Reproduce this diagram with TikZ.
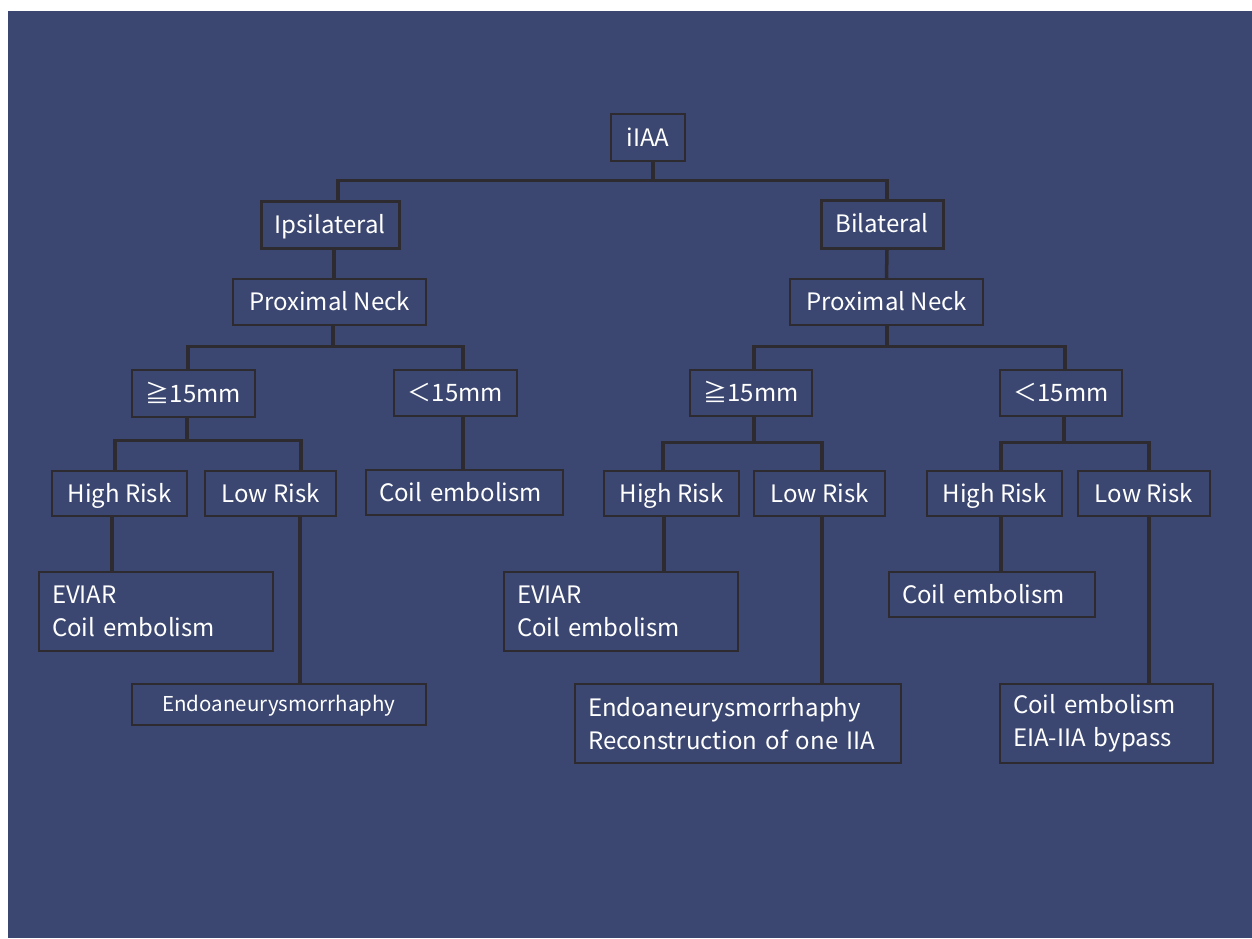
\documentclass[tikz,border=0pt]{standalone}
\usepackage{fontspec}
\setmainfont{Noto Sans CJK JP}
\definecolor{bg}{HTML}{3B4770}
\definecolor{ln}{HTML}{2D2A30}
\begin{document}
\begin{tikzpicture}[x=1pt,y=-1pt,
  base/.style={draw=ln, line width=1.3pt, fill=bg, text=white,
    font=\fontsize{24}{33}\selectfont, inner sep=0pt, minimum height=45pt},
  box/.style={base, align=center, text height=22pt, text depth=5pt},
  thickbox/.style={box, line width=3pt},
  lbox/.style={base, align=left, inner xsep=13pt},
  conn/.style={draw=ln, line width=3.5pt}]
\useasboundingbox (0,0) rectangle (1252,938);
\fill[white] (0,0) rectangle (1252,938);
\fill[bg] (8,11) rectangle (1252,938);

% nodes
\node[box, minimum width=74pt, minimum height=47pt] (iIAA) at (648,137.5) {iIAA};
\node[thickbox, minimum width=138pt, minimum height=47pt] (ipsi) at (330,224.5) {Ipsilateral};
\node[thickbox, minimum width=122pt, minimum height=48pt] (bila) at (882,224) {Bilateral};
\node[box, minimum width=193pt, minimum height=46pt] (pnl) at (329.5,302) {Proximal Neck};
\node[box, minimum width=193pt, minimum height=46pt] (pnr) at (886.5,302) {Proximal Neck};
\node[box, minimum width=123pt, minimum height=47pt] (gel) at (193.5,393.5) {≧15mm};
\node[box, minimum width=123pt, minimum height=46pt] (ltl) at (455.5,393) {＜15mm};
\node[box, minimum width=122pt, minimum height=46pt] (ger) at (751,393) {≧15mm};
\node[box, minimum width=122pt, minimum height=46pt] (ltr) at (1061,393) {＜15mm};
\node[box, minimum width=135pt] (hrl) at (119.5,493.5) {High Risk};
\node[box, minimum width=131pt] (lrl) at (270.5,493.5) {Low Risk};
\node[lbox, text width=171pt] (cel) at (464.5,492.5) {Coil embolism};
\node[box, minimum width=135pt] (hrr) at (671.5,493.5) {High Risk};
\node[box, minimum width=131pt] (lrr) at (819.5,493.5) {Low Risk};
\node[box, minimum width=135pt] (hrf) at (994.5,493.5) {High Risk};
\node[box, minimum width=132pt] (lrf) at (1144,493.5) {Low Risk};
\node[lbox, text width=208pt, minimum height=79pt] (evl) at (156,611.5) {EVIAR\\Coil embolism};
\node[box, minimum width=294pt, minimum height=41pt, font=\fontsize{20.5}{24}\selectfont, text height=18pt, text depth=4pt] (enl) at (279,704.5) {Endoaneurysmorrhaphy};
\node[lbox, text width=208pt, minimum height=79pt] (evr) at (621,611.5) {EVIAR\\Coil embolism};
\node[lbox, text width=300pt, minimum height=79pt] (enr) at (738,723.5) {Endoaneurysmorrhaphy\\Reconstruction of one IIA};
\node[lbox, text width=180pt] (cef) at (992,594.5) {Coil embolism};
\node[lbox, text width=187pt, minimum height=79pt] (ceb) at (1106.5,723.5) {Coil embolism\\EIA-IIA bypass};

% connectors
\draw[conn] ([xshift=5pt]iIAA.south) -- ++(0,19) coordinate (j0);
\draw[conn] ([xshift=8pt]ipsi.north) |- (j0) -| ([xshift=5pt]bila.north);
\draw[conn] ([xshift=4pt]ipsi.south) -- ([xshift=4.5pt]pnl.north);
\draw[conn] ([xshift=5pt]bila.south) -- (pnr.north);

\draw[conn] ([xshift=3.5pt]pnl.south) -- ++(0,21) coordinate (j1);
\draw[conn] ([xshift=-5.5pt]gel.north) |- (j1) -| ([xshift=7.5pt]ltl.north);
\draw[conn] ([xshift=0.5pt]pnr.south) -- ++(0,21) coordinate (j2);
\draw[conn] ([xshift=3pt]ger.north) |- (j2) -| ([xshift=4pt]ltr.north);

\draw[conn] ([xshift=-6.5pt]gel.south) -- ++(0,23) coordinate (j3);
\draw[conn] ([xshift=-4.5pt]hrl.north) |- (j3) -| ([xshift=30.5pt]lrl.north);
\draw[conn] ([xshift=7.5pt]ltl.south) -- ([xshift=-1.5pt]cel.north);
\draw[conn] ([xshift=-7.5pt]hrl.south) -- ([xshift=-44pt]evl.north);
\draw[conn] ([xshift=29.5pt]lrl.south) -- ([xshift=21pt]enl.north);

\draw[conn] ([xshift=3pt]ger.south) -- ++(0,26) coordinate (j4);
\draw[conn] ([xshift=-8.5pt]hrr.north) |- (j4) -| ([xshift=2.5pt]lrr.north);
\draw[conn] ([xshift=-7.5pt]hrr.south) -- ([xshift=43pt]evr.north);
\draw[conn] ([xshift=2.5pt]lrr.south) -- ([xshift=84pt]enr.north);

\draw[conn] ([xshift=3pt]ltr.south) -- ++(0,26) coordinate (j5);
\draw[conn] ([xshift=6.5pt]hrf.north) |- (j5) -| ([xshift=5pt]lrf.north);
\draw[conn] ([xshift=6.5pt]hrf.south) -- ([xshift=9pt]cef.north);
\draw[conn] ([xshift=5pt]lrf.south) -- ([xshift=42.5pt]ceb.north);
\end{tikzpicture}
\end{document}
